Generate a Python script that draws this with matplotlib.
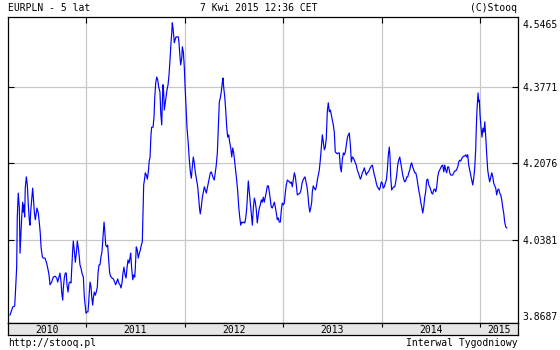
import matplotlib
matplotlib.use("Agg")
import matplotlib.pyplot as plt

# weekly EURPLN, time as decimal year
years = [
    2010.229, 2010.247, 2010.257, 2010.277, 2010.283, 2010.297, 2010.303, 2010.313, 2010.324, 2010.331,
    2010.338, 2010.348, 2010.358, 2010.364, 2010.371, 2010.378, 2010.384, 2010.395, 2010.405, 2010.415,
    2010.425, 2010.432, 2010.439, 2010.449, 2010.459, 2010.466, 2010.476, 2010.486, 2010.493, 2010.503,
    2010.516, 2010.526, 2010.536, 2010.544, 2010.557, 2010.567, 2010.584, 2010.601, 2010.612, 2010.625,
    2010.635, 2010.652, 2010.668, 2010.686, 2010.703, 2010.713, 2010.723, 2010.736, 2010.747, 2010.754,
    2010.764, 2010.770, 2010.780, 2010.790, 2010.800, 2010.807, 2010.818, 2010.828, 2010.838, 2010.848,
    2010.858, 2010.865, 2010.871, 2010.881, 2010.892, 2010.902, 2010.912, 2010.922, 2010.932, 2010.939,
    2010.949, 2010.959, 2010.973, 2010.983, 2010.993, 2011.000, 2011.010, 2011.020, 2011.027, 2011.033,
    2011.041, 2011.051, 2011.058, 2011.068, 2011.074, 2011.084, 2011.094, 2011.104, 2011.115, 2011.122,
    2011.132, 2011.142, 2011.152, 2011.162, 2011.172, 2011.183, 2011.190, 2011.200, 2011.210, 2011.220,
    2011.230, 2011.240, 2011.250, 2011.264, 2011.277, 2011.291, 2011.301, 2011.311, 2011.322, 2011.332,
    2011.345, 2011.355, 2011.365, 2011.375, 2011.385, 2011.396, 2011.406, 2011.416, 2011.426, 2011.436,
    2011.446, 2011.453, 2011.463, 2011.474, 2011.484, 2011.494, 2011.500, 2011.510, 2011.520, 2011.530,
    2011.541, 2011.551, 2011.561, 2011.571, 2011.578, 2011.585, 2011.595, 2011.601, 2011.612, 2011.622,
    2011.632, 2011.642, 2011.649, 2011.659, 2011.666, 2011.680, 2011.690, 2011.697, 2011.707, 2011.717,
    2011.727, 2011.737, 2011.750, 2011.758, 2011.768, 2011.774, 2011.781, 2011.788, 2011.794, 2011.801,
    2011.811, 2011.821, 2011.832, 2011.842, 2011.852, 2011.862, 2011.869, 2011.875, 2011.882, 2011.889,
    2011.896, 2011.903, 2011.913, 2011.926, 2011.936, 2011.943, 2011.953, 2011.960, 2011.971, 2011.977,
    2011.987, 2011.997, 2012.004, 2012.014, 2012.024, 2012.038, 2012.048, 2012.058, 2012.068, 2012.078,
    2012.088, 2012.098, 2012.109, 2012.119, 2012.133, 2012.143, 2012.153, 2012.159, 2012.169, 2012.180,
    2012.190, 2012.200, 2012.210, 2012.220, 2012.230, 2012.240, 2012.250, 2012.261, 2012.271, 2012.281,
    2012.291, 2012.301, 2012.311, 2012.321, 2012.332, 2012.342, 2012.352, 2012.362, 2012.372, 2012.382,
    2012.389, 2012.397, 2012.407, 2012.417, 2012.427, 2012.437, 2012.447, 2012.457, 2012.468, 2012.478,
    2012.488, 2012.498, 2012.508, 2012.518, 2012.528, 2012.539, 2012.549, 2012.559, 2012.569, 2012.579,
    2012.589, 2012.599, 2012.610, 2012.620, 2012.630, 2012.640, 2012.646, 2012.656, 2012.666, 2012.676,
    2012.687, 2012.697, 2012.707, 2012.717, 2012.727, 2012.737, 2012.747, 2012.758, 2012.768, 2012.778,
    2012.788, 2012.798, 2012.808, 2012.818, 2012.829, 2012.839, 2012.849, 2012.859, 2012.869, 2012.879,
    2012.889, 2012.900, 2012.910, 2012.920, 2012.930, 2012.940, 2012.950, 2012.960, 2012.971, 2012.981,
    2012.991, 2013.001, 2013.011, 2013.021, 2013.031, 2013.042, 2013.052, 2013.062, 2013.072, 2013.082,
    2013.092, 2013.102, 2013.113, 2013.123, 2013.133, 2013.143, 2013.170, 2013.181, 2013.191, 2013.201,
    2013.211, 2013.221, 2013.231, 2013.241, 2013.251, 2013.259, 2013.269, 2013.279, 2013.289, 2013.295,
    2013.305, 2013.315, 2013.326, 2013.336, 2013.346, 2013.356, 2013.366, 2013.376, 2013.386, 2013.397,
    2013.407, 2013.417, 2013.427, 2013.437, 2013.447, 2013.457, 2013.468, 2013.478, 2013.488, 2013.498,
    2013.508, 2013.518, 2013.528, 2013.539, 2013.549, 2013.559, 2013.569, 2013.579, 2013.589, 2013.599,
    2013.610, 2013.620, 2013.630, 2013.640, 2013.650, 2013.660, 2013.670, 2013.681, 2013.691, 2013.701,
    2013.711, 2013.721, 2013.731, 2013.741, 2013.751, 2013.762, 2013.772, 2013.782, 2013.792, 2013.802,
    2013.812, 2013.822, 2013.833, 2013.843, 2013.853, 2013.863, 2013.873, 2013.883, 2013.893, 2013.904,
    2013.914, 2013.924, 2013.934, 2013.944, 2013.954, 2013.965, 2013.975, 2013.985, 2013.995, 2014.005,
    2014.015, 2014.025, 2014.035, 2014.046, 2014.056, 2014.066, 2014.076, 2014.083, 2014.090, 2014.100,
    2014.111, 2014.121, 2014.131, 2014.141, 2014.151, 2014.161, 2014.171, 2014.182, 2014.192, 2014.202,
    2014.212, 2014.222, 2014.232, 2014.242, 2014.253, 2014.263, 2014.273, 2014.283, 2014.293, 2014.303,
    2014.313, 2014.324, 2014.334, 2014.344, 2014.354, 2014.364, 2014.374, 2014.384, 2014.395, 2014.405,
    2014.415, 2014.425, 2014.435, 2014.445, 2014.455, 2014.466, 2014.476, 2014.486, 2014.496, 2014.506,
    2014.516, 2014.526, 2014.536, 2014.547, 2014.557, 2014.567, 2014.577, 2014.587, 2014.597, 2014.607,
    2014.618, 2014.628, 2014.638, 2014.648, 2014.658, 2014.668, 2014.678, 2014.689, 2014.699, 2014.709,
    2014.719, 2014.729, 2014.739, 2014.749, 2014.760, 2014.770, 2014.780, 2014.790, 2014.800, 2014.810,
    2014.820, 2014.831, 2014.841, 2014.851, 2014.861, 2014.871, 2014.881, 2014.891, 2014.902, 2014.912,
    2014.922, 2014.932, 2014.942, 2014.952, 2014.958, 2014.965, 2014.976, 2014.983, 2014.989, 2014.996,
    2015.006, 2015.016, 2015.026, 2015.036, 2015.044, 2015.054, 2015.064, 2015.074, 2015.084, 2015.094,
    2015.105, 2015.115, 2015.125, 2015.135, 2015.145, 2015.155, 2015.165, 2015.175, 2015.186, 2015.196,
    2015.206, 2015.216, 2015.226, 2015.236, 2015.246, 2015.257, 2015.267,
]
rates = [
    3.872, 3.883, 3.890, 3.892, 3.916, 3.978, 4.089, 4.142, 4.109, 4.009,
    4.043, 4.089, 4.122, 4.100, 4.116, 4.089, 4.153, 4.178, 4.160, 4.116,
    4.083, 4.071, 4.100, 4.127, 4.153, 4.133, 4.100, 4.083, 4.094, 4.109,
    4.098, 4.078, 4.054, 4.023, 4.001, 3.998, 3.998, 3.987, 3.976, 3.961,
    3.939, 3.945, 3.956, 3.958, 3.954, 3.945, 3.954, 3.965, 3.945, 3.921,
    3.905, 3.932, 3.954, 3.965, 3.965, 3.939, 3.923, 3.943, 3.945, 3.943,
    3.987, 4.016, 4.036, 4.016, 3.989, 4.009, 4.036, 4.021, 4.001, 3.983,
    3.976, 3.965, 3.956, 3.912, 3.890, 3.876, 3.879, 3.879, 3.899, 3.921,
    3.945, 3.934, 3.912, 3.894, 3.909, 3.923, 3.916, 3.923, 3.934, 3.965,
    3.983, 3.983, 4.001, 4.012, 4.045, 4.078, 4.060, 4.027, 4.023, 4.027,
    3.994, 3.965, 3.958, 3.954, 3.952, 3.945, 3.939, 3.945, 3.952, 3.943,
    3.939, 3.932, 3.943, 3.965, 3.978, 3.961, 3.954, 3.976, 3.994, 3.987,
    3.998, 4.009, 3.976, 3.950, 3.961, 3.956, 3.976, 4.023, 4.016, 3.998,
    4.009, 4.016, 4.027, 4.034, 4.094, 4.160, 4.175, 4.187, 4.182, 4.173,
    4.189, 4.215, 4.220, 4.271, 4.288, 4.288, 4.311, 4.353, 4.386, 4.399,
    4.393, 4.377, 4.366, 4.320, 4.293, 4.342, 4.382, 4.364, 4.326, 4.337,
    4.353, 4.370, 4.382, 4.404, 4.437, 4.475, 4.495, 4.519, 4.508, 4.492,
    4.475, 4.481, 4.488, 4.488, 4.488, 4.475, 4.444, 4.426, 4.441, 4.466,
    4.455, 4.421, 4.382, 4.333, 4.288, 4.249, 4.215, 4.189, 4.175, 4.200,
    4.222, 4.209, 4.187, 4.175, 4.156, 4.131, 4.105, 4.096, 4.111, 4.133,
    4.145, 4.156, 4.149, 4.142, 4.153, 4.164, 4.175, 4.187, 4.189, 4.182,
    4.175, 4.171, 4.187, 4.204, 4.231, 4.288, 4.344, 4.353, 4.366, 4.386,
    4.397, 4.375, 4.355, 4.326, 4.288, 4.266, 4.271, 4.255, 4.242, 4.222,
    4.242, 4.231, 4.211, 4.189, 4.171, 4.145, 4.111, 4.089, 4.071, 4.078,
    4.076, 4.078, 4.076, 4.087, 4.109, 4.149, 4.169, 4.145, 4.120, 4.098,
    4.071, 4.109, 4.131, 4.122, 4.105, 4.076, 4.094, 4.109, 4.116, 4.127,
    4.122, 4.133, 4.122, 4.133, 4.145, 4.158, 4.158, 4.145, 4.127, 4.111,
    4.109, 4.116, 4.122, 4.111, 4.098, 4.083, 4.087, 4.078, 4.078, 4.105,
    4.120, 4.116, 4.120, 4.142, 4.160, 4.171, 4.169, 4.167, 4.164, 4.167,
    4.156, 4.171, 4.187, 4.178, 4.160, 4.138, 4.142, 4.149, 4.164, 4.171,
    4.175, 4.178, 4.167, 4.156, 4.138, 4.116, 4.100, 4.109, 4.122, 4.145,
    4.158, 4.153, 4.149, 4.156, 4.171, 4.182, 4.193, 4.215, 4.242, 4.271,
    4.255, 4.238, 4.244, 4.264, 4.322, 4.342, 4.322, 4.326, 4.315, 4.304,
    4.293, 4.277, 4.233, 4.231, 4.229, 4.231, 4.231, 4.200, 4.189, 4.215,
    4.231, 4.227, 4.233, 4.249, 4.264, 4.271, 4.275, 4.249, 4.211, 4.222,
    4.220, 4.215, 4.209, 4.204, 4.193, 4.187, 4.180, 4.173, 4.178, 4.187,
    4.191, 4.198, 4.189, 4.182, 4.187, 4.189, 4.193, 4.198, 4.202, 4.204,
    4.193, 4.182, 4.175, 4.164, 4.156, 4.153, 4.149, 4.156, 4.167, 4.164,
    4.153, 4.156, 4.164, 4.171, 4.193, 4.227, 4.244, 4.222, 4.178, 4.149,
    4.153, 4.156, 4.156, 4.167, 4.182, 4.204, 4.215, 4.222, 4.209, 4.195,
    4.182, 4.173, 4.167, 4.169, 4.178, 4.178, 4.187, 4.193, 4.204, 4.209,
    4.200, 4.193, 4.187, 4.187, 4.178, 4.164, 4.149, 4.138, 4.122, 4.111,
    4.098, 4.111, 4.133, 4.145, 4.171, 4.173, 4.160, 4.156, 4.149, 4.142,
    4.140, 4.149, 4.151, 4.145, 4.156, 4.178, 4.189, 4.193, 4.198, 4.202,
    4.204, 4.189, 4.204, 4.193, 4.187, 4.200, 4.200, 4.187, 4.182, 4.182,
    4.182, 4.187, 4.191, 4.191, 4.195, 4.200, 4.211, 4.215, 4.213, 4.218,
    4.222, 4.224, 4.224, 4.227, 4.222, 4.227, 4.204, 4.193, 4.182, 4.171,
    4.160, 4.175, 4.198, 4.238, 4.286, 4.326, 4.364, 4.344, 4.348, 4.315,
    4.288, 4.266, 4.286, 4.277, 4.300, 4.266, 4.227, 4.193, 4.178, 4.167,
    4.178, 4.187, 4.178, 4.164, 4.158, 4.153, 4.138, 4.149, 4.151, 4.142,
    4.138, 4.127, 4.111, 4.098, 4.078, 4.067, 4.065,
]

grid_levels = [4.0381, 4.2076, 4.3771]
top_label = "4.5465"
bottom_level = 3.8687
year_starts = [2011, 2012, 2013, 2014, 2015]
year_names = ["2010", "2011", "2012", "2013", "2014", "2015"]

x_lo, x_hi = 2010.209, 2015.381
y_lo, y_hi = 3.8544, 4.532

plt.rcParams["font.family"] = "DejaVu Sans Mono"
plt.rcParams["font.size"] = 7

fig = plt.figure(figsize=(5.6, 3.5), dpi=100)
fig.patch.set_facecolor("white")

ax = fig.add_axes([8 / 560, 27 / 350, 510 / 560, 306 / 350])
for yv in grid_levels:
    ax.axhline(yv, color="#c8c8c8", lw=0.9, zorder=1)
for xv in year_starts:
    ax.axvline(xv, color="#c8c8c8", lw=0.9, zorder=1)
ax.plot(years, rates, color="#0000ff", lw=0.85, zorder=3)
ax.set_xlim(x_lo, x_hi)
ax.set_ylim(y_lo, y_hi)

ax.set_yticks(grid_levels)
ax.set_yticklabels([f"{v:.4f}" for v in grid_levels])
ax.yaxis.tick_right()
ax.tick_params(axis="y", which="both", direction="in", length=4, width=0.8,
               left=True, right=True, labelleft=False, labelright=True, pad=3)
ax.set_xticks(year_starts)
ax.tick_params(axis="x", direction="in", length=4, width=0.8, top=True,
               bottom=False, labelbottom=False)
for s in ax.spines.values():
    s.set_linewidth(0.9)
    s.set_color("black")

ax.annotate(top_label, xy=(1, 1), xycoords="axes fraction", xytext=(3, -2.5),
            textcoords="offset points", ha="left", va="top")
ax.annotate(f"{bottom_level:.4f}", xy=(1, bottom_level),
            xycoords=("axes fraction", "data"), xytext=(3, 0),
            textcoords="offset points", ha="left", va="center")

# year strip under the chart
band = fig.add_axes([8 / 560, 15 / 350, 510 / 560, 12 / 350])
band.set_facecolor("#e6e6e6")
band.set_xlim(x_lo, x_hi)
band.set_ylim(0, 1)
band.set_yticks([])
band.set_xticks(year_starts)
band.tick_params(axis="x", direction="in", length=3, width=0.8, top=True,
                 bottom=False, labelbottom=False)
for s in band.spines.values():
    s.set_linewidth(0.9)
edges = [x_lo] + year_starts + [x_hi]
for i, name in enumerate(year_names):
    band.text((edges[i] + edges[i + 1]) / 2, 0.45, name, ha="center", va="center")

fig.text(8 / 560, 1 - 8 / 350, "EURPLN - 5 lat", ha="left", va="center")
fig.text(259 / 560, 1 - 8 / 350, "7 Kwi 2015 12:36 CET", ha="center", va="center")
fig.text(517 / 560, 1 - 8 / 350, "(C)Stooq", ha="right", va="center")
fig.text(8 / 560, 1 - 343 / 350, "http://stooq.pl", ha="left", va="center")
fig.text(518 / 560, 1 - 343 / 350, "Interwal Tygodniowy", ha="right", va="center")

fig.savefig("out.png", dpi=100, facecolor="white")
